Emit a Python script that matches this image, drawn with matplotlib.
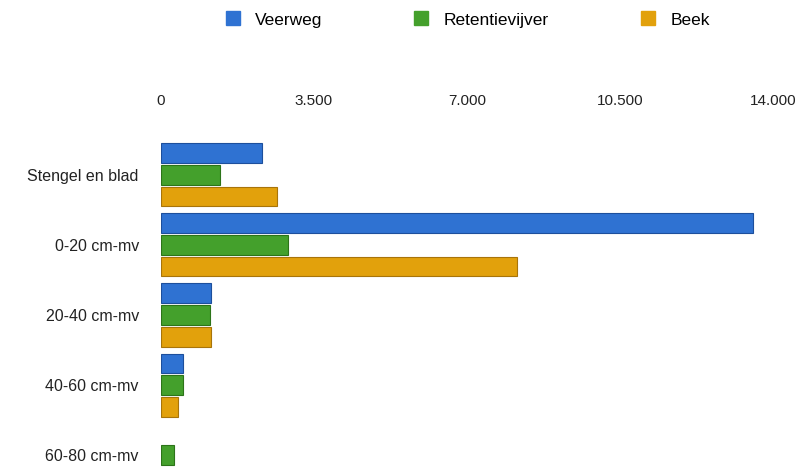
import matplotlib
matplotlib.use('Agg')
import matplotlib.pyplot as plt
from matplotlib.lines import Line2D
from matplotlib.ticker import FuncFormatter
import numpy as np

plt.rcParams['font.family'] = ['Liberation Sans', 'DejaVu Sans']

# Data
categories = ['Stengel en blad', '0-20 cm-mv', '20-40 cm-mv', '40-60 cm-mv', '60-80 cm-mv']
series = ['Veerweg', 'Retentievijver', 'Beek']
veerweg = [2320, 13540, 1150, 500, 0]
retentievijver = [1350, 2910, 1130, 500, 300]
beek = [2660, 8150, 1150, 390, 0]
ticks = [0, 3500, 7000, 10500, 14000]

colors = ['#2f72d2', '#44a02c', '#e2a10c']
edges = ['#1d4f9c', '#2c7419', '#a8740a']

fig = plt.figure(figsize=(8.09, 4.71), dpi=100)
ax = fig.add_axes([161 / 809, 0.004, 612 / 809, 0.699])

y = np.arange(len(categories))
offsets = [-0.31, 0.0, 0.31]
values = [veerweg, retentievijver, beek]
for vals, off, c, e in zip(values, offsets, colors, edges):
    bars = ax.barh(y + off, vals, height=0.28, color=c, edgecolor=e, linewidth=0.8)
    for b in bars:
        if b.get_width() == 0:
            b.set_visible(False)

ax.set_xlim(0, 14000)
ax.set_ylim(4.2, -0.5)
ax.set_xticks(ticks)
ax.xaxis.set_major_formatter(FuncFormatter(lambda v, p: f'{int(v):,}'.replace(',', '.')))
ax.xaxis.tick_top()
ax.tick_params(axis='x', length=0, pad=23, labelsize=11, labelcolor='#222222')
ax.set_yticks(y)
ax.set_yticklabels(categories)
ax.tick_params(axis='y', length=0, pad=16, labelsize=11.5, labelcolor='#222222')
for s in ax.spines.values():
    s.set_visible(False)

handles = [Line2D([], [], marker='s', linestyle='', markersize=10,
                  markerfacecolor=c, markeredgecolor=c) for c in colors]
fig.legend(handles, series, loc='center', bbox_to_anchor=(467 / 809, 1 - 20 / 471),
           ncol=3, frameon=False, fontsize=12.5, columnspacing=5.2,
           handletextpad=0.8, handlelength=1.0)

plt.savefig('out.png', dpi=100)
